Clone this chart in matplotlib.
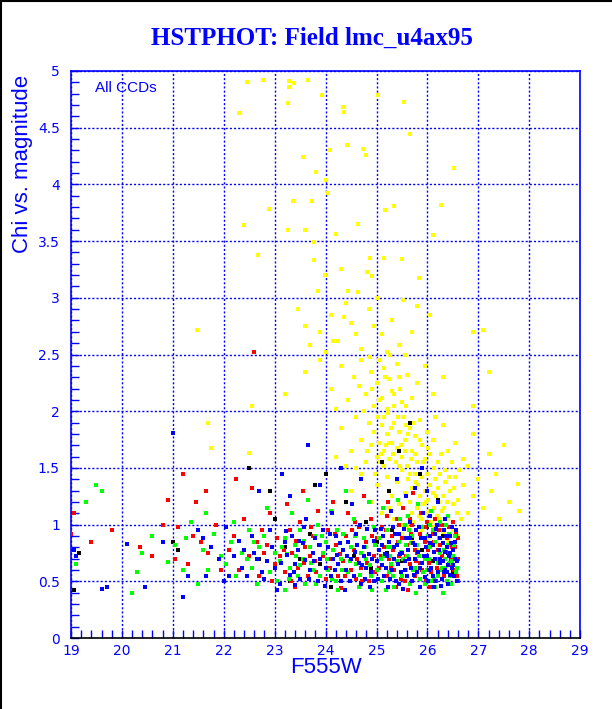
import matplotlib
matplotlib.use("Agg")
import matplotlib.pyplot as plt
from matplotlib.ticker import MultipleLocator
from matplotlib.lines import Line2D

# (magnitude, chi), one list per colour
yellow_pts = [
    (22.3, 4.63), (22.46, 4.9), (22.77, 4.92), (23.28, 4.91), (23.28, 4.86), (23.38, 4.89),
    (23.66, 4.92), (23.26, 4.72), (23.93, 4.79), (24.34, 4.68), (24.36, 4.64), (25.03, 4.79),
    (25.54, 4.73), (25.66, 4.44), (24.42, 4.35), (24.09, 4.30), (24.73, 4.31), (24.79, 4.26),
    (23.56, 4.24), (23.81, 4.11), (24.01, 4.04), (26.52, 4.14), (22.89, 3.78), (23.73, 3.85),
    (23.36, 3.85), (24.05, 3.92), (24.64, 3.65), (25.35, 3.81), (25.17, 3.77), (23.6, 3.6),
    (23.26, 3.6), (24.2, 3.56), (22.4, 3.64), (22.67, 3.38), (23.77, 3.49), (24.3, 3.25),
    (24.87, 3.35), (25.15, 3.35), (23.77, 3.33), (23.99, 3.2), (24.81, 3.23), (24.91, 3.19),
    (25.84, 3.17), (25.5, 3.34), (26.27, 3.82), (21.47, 2.72), (26.1, 3.55),
    (25.52, 2.98), (24.64, 3.05), (24.36, 2.83), (23.85, 3.06), (25.0, 3.0), (24.44, 3.06),
    (25.8, 2.93), (23.45, 2.9), (23.6, 2.75), (23.9, 2.7), (24.1, 2.85), (24.25, 2.62),
    (24.5, 2.78), (24.7, 2.55), (24.85, 2.9), (25.1, 2.68), (25.3, 2.8), (25.45, 2.58),
    (25.7, 2.7), (26.05, 2.85), (24.0, 2.52), (24.6, 2.68), (25.2, 2.52), (24.95, 2.75),
    (23.7, 2.58), (26.9, 2.7), (27.1, 2.72), (24.4, 2.95), (24.15, 2.62), (25.55, 2.5),
    (23.6, 2.35), (23.9, 2.45), (24.1, 2.2), (24.3, 2.4), (24.45, 2.1), (24.55, 2.3),
    (24.7, 2.45), (24.8, 2.15), (24.9, 2.35), (24.95, 2.05), (25.0, 2.25), (25.05, 2.45),
    (25.1, 2.12), (25.15, 2.38), (25.2, 2.02), (25.25, 2.28), (25.3, 2.18), (25.4, 2.42),
    (25.5, 2.08), (25.6, 2.32), (25.7, 2.12), (25.8, 2.25), (25.95, 2.4), (26.1, 2.15),
    (26.3, 2.3), (26.9, 2.05), (27.2, 2.35), (24.2, 2.02), (24.65, 2.22), (25.35, 2.05),
    (25.45, 2.3), (24.88, 2.48), (22.55, 2.05), (23.2, 2.15),
    (24.3, 1.85), (24.5, 1.65), (24.6, 1.95), (24.7, 1.75), (24.8, 1.55), (24.85, 1.9),
    (24.9, 1.7), (24.95, 1.82), (25.0, 1.6), (25.02, 1.95), (25.05, 1.72), (25.1, 1.88),
    (25.12, 1.52), (25.15, 1.65), (25.2, 1.8), (25.22, 1.98), (25.25, 1.58), (25.3, 1.72),
    (25.35, 1.9), (25.38, 1.55), (25.4, 1.68), (25.45, 1.82), (25.5, 1.6), (25.52, 1.95),
    (25.55, 1.75), (25.6, 1.52), (25.65, 1.85), (25.7, 1.65), (25.75, 1.78), (25.8, 1.55),
    (25.85, 1.92), (25.9, 1.7), (25.95, 1.58), (26.0, 1.82), (26.05, 1.62), (26.1, 1.75),
    (26.2, 1.55), (26.3, 1.88), (26.4, 1.65), (26.55, 1.72), (26.7, 1.58), (26.9, 1.8),
    (27.2, 1.62), (27.5, 1.7), (24.2, 1.6), (24.4, 1.52), (25.08, 1.62), (25.28, 1.85),
    (25.48, 1.7), (25.68, 1.58), (26.15, 1.95), (26.8, 1.52), (25.18, 1.7), (25.58, 1.88),
    (21.7, 1.9), (21.75, 1.68), (22.5, 1.63),
    (24.6, 1.5), (24.75, 2.0), (24.82, 1.65), (24.92, 2.2), (24.98, 1.45), (25.04, 2.1),
    (25.06, 1.55), (25.14, 1.95), (25.16, 2.3), (25.24, 1.72), (25.26, 2.5), (25.32, 1.62),
    (25.34, 2.15), (25.42, 1.95), (25.44, 1.52), (25.46, 2.2), (25.56, 1.65), (25.58, 2.05),
    (25.62, 1.8), (25.66, 1.45), (25.72, 1.9), (25.76, 1.62), (25.86, 1.75), (25.92, 1.55),
    (26.02, 1.68), (26.12, 1.5), (26.26, 1.62), (26.34, 1.48), (26.48, 1.55), (26.62, 1.48),
    (24.5, 1.3), (24.7, 1.45), (24.9, 1.2), (25.0, 1.35), (25.1, 1.1), (25.2, 1.42),
    (25.3, 1.25), (25.35, 1.05), (25.4, 1.38), (25.45, 1.18), (25.5, 1.48), (25.55, 1.28),
    (25.6, 1.08), (25.62, 1.4), (25.65, 1.2), (25.7, 1.32), (25.72, 1.02), (25.75, 1.45),
    (25.8, 1.15), (25.82, 1.35), (25.85, 1.25), (25.88, 1.05), (25.9, 1.42), (25.92, 1.18),
    (25.95, 1.3), (25.98, 1.1), (26.0, 1.45), (26.02, 1.22), (26.05, 1.35), (26.08, 1.02),
    (26.1, 1.28), (26.12, 1.15), (26.15, 1.4), (26.18, 1.08), (26.2, 1.32), (26.22, 1.2),
    (26.25, 1.45), (26.28, 1.12), (26.3, 1.25), (26.35, 1.38), (26.4, 1.05), (26.45, 1.3),
    (26.5, 1.18), (26.55, 1.42), (26.6, 1.22), (26.7, 1.35), (26.8, 1.1), (26.9, 1.25),
    (27.0, 1.4), (27.1, 1.15), (27.25, 1.3), (27.4, 1.05), (27.6, 1.2), (27.8, 1.12),
    (27.35, 1.45), (26.65, 1.05), (25.25, 1.15), (25.52, 1.0), (25.78, 1.38), (26.38, 1.2),
    (27.78, 1.36), (25.98, 1.2), (26.16, 1.25), (26.32, 1.15), (26.42, 1.42), (26.58, 1.1),
    (25.84, 1.08), (25.7, 1.1), (26.06, 1.12), (26.24, 1.05), (26.52, 1.32),
    (25.5, 0.92), (25.7, 0.85), (25.9, 0.95), (26.0, 0.88), (26.1, 0.98), (26.2, 0.82),
    (26.3, 0.92), (26.4, 0.86), (26.5, 0.95), (26.6, 0.9), (25.8, 0.78), (26.25, 0.75),
    (25.6, 0.98), (26.45, 0.8),
]

black_pts = [
    (19.05, 0.42), (19.15, 0.75), (21.0, 0.85), (21.1, 0.78), (22.5, 1.5), (22.9, 1.3),
    (23.0, 1.05), (23.2, 0.8), (23.5, 0.7), (23.7, 0.92), (23.8, 1.35), (23.9, 0.65),
    (24.0, 1.45), (24.2, 0.9), (24.4, 1.2), (24.55, 0.72), (24.8, 1.02), (24.9, 0.62),
    (25.0, 0.85), (25.1, 1.55), (25.2, 0.75), (25.3, 0.95), (25.45, 1.65), (25.5, 0.68),
    (25.65, 1.9), (25.7, 0.88), (25.85, 1.45), (25.9, 0.78), (26.0, 0.98), (26.1, 0.68),
    (26.2, 1.22), (26.3, 0.9), (26.4, 0.75), (26.5, 0.58), (23.3, 0.5), (24.6, 0.52),
    (25.6, 0.55), (22.7, 0.7), (24.1, 0.45), (25.25, 1.3),
]

red_pts = [
    (19.0, 0.92), (19.05, 1.1), (19.4, 0.85), (19.8, 0.95), (20.35, 0.8), (20.6, 0.72),
    (20.8, 1.0), (20.9, 1.22), (21.05, 0.7), (21.1, 0.98), (21.2, 1.45), (21.3, 0.65),
    (21.45, 1.2), (21.55, 0.85), (21.7, 0.75), (21.85, 1.0), (21.95, 0.6), (21.4, 0.9),
    (21.65, 1.3),
    (22.1, 0.78), (22.2, 0.9), (22.3, 0.6), (22.4, 1.05), (22.5, 0.72), (22.6, 2.52),
    (22.65, 0.85), (22.7, 0.55), (22.8, 0.75), (22.9, 1.1), (23.0, 0.65), (22.55, 1.32),
    (22.75, 0.95), (22.95, 0.5), (22.25, 1.4), (22.85, 0.82),
    (23.05, 0.88), (23.1, 0.72), (23.2, 0.58), (23.3, 0.95), (23.35, 0.75), (23.45, 0.62),
    (23.5, 1.02), (23.6, 0.8), (23.65, 0.55), (23.75, 0.9), (23.8, 0.68), (23.9, 0.82),
    (24.0, 0.52), (23.25, 1.18), (23.55, 1.3), (23.85, 1.12), (23.4, 0.45), (23.7, 0.72),
    (23.18, 0.78), (23.32, 0.5), (23.42, 0.86), (23.58, 0.66), (23.72, 0.98), (23.82, 0.58),
    (23.95, 0.72),
    (24.05, 0.95), (24.1, 0.7), (24.2, 0.82), (24.25, 0.55), (24.35, 0.68), (24.4, 0.9),
    (24.5, 0.6), (24.55, 0.78), (24.65, 0.98), (24.7, 0.62), (24.8, 0.85), (24.85, 0.5),
    (24.95, 0.72), (24.15, 1.2), (24.45, 1.1), (24.75, 1.25), (24.9, 1.05), (24.3, 0.44),
    (24.6, 0.52), (25.0, 0.88), (24.08, 0.62), (24.18, 0.92), (24.28, 0.74), (24.38, 0.55),
    (24.52, 0.95), (24.62, 0.7), (24.72, 0.5), (24.82, 0.66), (24.92, 0.9), (24.98, 0.58),
    (24.58, 1.02),
    (25.05, 0.62), (25.1, 0.98), (25.15, 0.8), (25.2, 0.55), (25.25, 0.7), (25.3, 0.9),
    (25.35, 0.6), (25.4, 1.05), (25.45, 0.72), (25.5, 0.88), (25.55, 0.5), (25.6, 0.82),
    (25.65, 0.65), (25.7, 1.0), (25.75, 0.55), (25.8, 0.75), (25.85, 0.92), (25.9, 0.6),
    (25.95, 0.85), (25.22, 1.2), (25.52, 1.15), (25.72, 1.28), (25.88, 1.1), (25.38, 0.45),
    (25.62, 0.42), (25.32, 0.78), (25.78, 0.68), (25.98, 0.5), (25.08, 0.72), (25.18, 0.95),
    (25.28, 0.62), (25.42, 0.85), (25.48, 0.52), (25.58, 0.72), (25.68, 0.92), (25.76, 0.78),
    (25.86, 0.66), (25.96, 0.98), (25.66, 1.05), (25.44, 1.0), (25.2, 1.08),
    (26.02, 0.78), (26.08, 0.58), (26.12, 0.85), (26.18, 0.62), (26.22, 0.95), (26.28, 0.72),
    (26.32, 0.55), (26.38, 0.88), (26.42, 0.65), (26.48, 0.8), (26.52, 0.6), (26.56, 0.92),
    (26.6, 0.7), (26.6, 0.5), (26.15, 1.05), (26.35, 1.0), (26.05, 0.45), (26.45, 0.48),
    (26.25, 0.82), (26.5, 1.02), (26.04, 0.66), (26.1, 0.92), (26.16, 0.5), (26.2, 0.78),
    (26.26, 1.0), (26.3, 0.62), (26.36, 0.76), (26.42, 0.98), (26.46, 0.7), (26.54, 0.8),
    (26.58, 0.55), (26.6, 0.88), (26.0, 1.02), (26.14, 0.7),
]

green_pts = [
    (19.1, 0.65), (19.3, 1.2), (19.5, 1.35), (19.6, 1.3), (20.2, 0.4), (20.3, 0.58),
    (20.4, 0.75), (20.6, 0.9), (20.9, 0.67), (21.05, 0.82), (21.2, 0.6), (21.35, 1.02),
    (21.5, 0.48), (21.6, 0.78), (21.7, 0.6), (21.8, 0.92), (21.95, 0.72), (21.25, 0.88),
    (21.65, 1.1),
    (22.05, 0.65), (22.15, 0.85), (22.25, 0.55), (22.35, 0.75), (22.5, 0.95), (22.55, 0.62),
    (22.65, 0.48), (22.7, 0.8), (22.8, 0.9), (22.9, 0.58), (23.0, 0.75), (22.2, 1.02),
    (22.45, 0.7), (22.85, 1.15), (22.6, 0.85), (23.05, 0.5), (23.2, 0.42),
    (23.1, 0.68), (23.2, 0.88), (23.3, 0.62), (23.4, 0.82), (23.45, 0.55), (23.5, 0.95),
    (23.55, 0.7), (23.6, 0.48), (23.7, 0.8), (23.75, 0.6), (23.8, 0.9), (23.9, 0.55),
    (23.95, 0.75), (23.35, 1.1), (23.65, 1.22), (23.85, 1.0), (23.25, 0.74), (23.5, 0.64),
    (23.15, 0.8), (23.28, 0.52), (23.42, 0.72), (23.58, 0.86), (23.72, 0.66), (23.82, 0.48),
    (23.92, 0.9),
    (24.0, 0.85), (24.05, 0.6), (24.15, 0.78), (24.2, 0.5), (24.3, 0.7), (24.35, 0.92),
    (24.45, 0.58), (24.5, 0.8), (24.6, 0.65), (24.65, 0.45), (24.75, 0.88), (24.8, 0.7),
    (24.9, 0.55), (24.95, 0.98), (24.1, 1.12), (24.4, 1.3), (24.55, 1.05), (24.85, 1.2),
    (24.25, 0.42), (24.7, 0.75), (25.0, 0.6), (24.02, 0.7), (24.12, 0.52), (24.22, 0.95),
    (24.32, 0.6), (24.48, 0.68), (24.58, 0.9), (24.68, 0.56), (24.78, 0.8), (24.88, 0.64),
    (24.98, 0.82), (24.92, 0.42),
    (25.05, 0.88), (25.1, 0.5), (25.15, 0.72), (25.2, 0.95), (25.25, 0.58), (25.3, 0.8),
    (25.35, 0.45), (25.4, 0.68), (25.45, 0.85), (25.5, 0.55), (25.55, 1.0), (25.6, 0.72),
    (25.65, 0.48), (25.7, 0.9), (25.75, 0.62), (25.8, 0.82), (25.85, 0.52), (25.9, 0.98),
    (25.95, 0.7), (25.12, 1.15), (25.42, 1.22), (25.62, 1.08), (25.82, 1.18), (25.28, 0.65),
    (25.58, 0.6), (25.78, 0.4), (25.92, 0.58), (25.18, 0.42), (25.48, 0.76), (25.68, 0.84),
    (25.08, 0.7), (25.22, 0.8), (25.32, 0.55), (25.38, 0.92), (25.52, 0.7), (25.64, 0.95),
    (25.72, 0.6), (25.84, 0.72), (25.96, 0.48), (25.46, 1.05), (25.88, 0.88), (25.58, 0.82),
    (25.26, 0.72),
    (26.0, 0.6), (26.05, 0.8), (26.1, 0.95), (26.12, 0.52), (26.18, 0.7), (26.22, 0.88),
    (26.28, 0.62), (26.32, 0.78), (26.38, 0.5), (26.42, 0.92), (26.48, 0.68), (26.52, 0.82),
    (26.56, 0.58), (26.08, 1.12), (26.25, 1.02), (26.4, 1.08), (26.15, 0.45), (26.35, 0.7),
    (26.45, 0.55), (26.02, 0.9), (26.3, 0.4), (26.2, 0.66), (26.04, 0.7), (26.08, 0.5),
    (26.14, 0.85), (26.2, 0.55), (26.24, 0.75), (26.3, 0.95), (26.34, 0.62), (26.4, 0.82),
    (26.46, 0.48), (26.5, 0.72), (26.54, 0.9), (26.58, 0.62), (26.06, 1.0), (26.36, 1.0),
    (26.26, 0.6), (26.44, 0.66),
]

blue_pts = [
    (19.05, 0.78), (19.1, 0.72), (19.6, 0.43), (19.7, 0.45), (20.1, 0.83), (20.45, 0.45),
    (20.8, 0.85), (21.0, 1.81), (21.2, 0.36), (21.3, 0.55), (21.5, 0.95), (21.6, 0.88),
    (21.65, 0.55), (21.75, 0.8), (21.9, 0.7), (22.0, 0.5), (22.05, 0.98), (22.1, 0.55),
    (22.2, 0.72), (22.3, 0.86), (22.35, 0.62), (22.45, 0.55), (22.55, 0.9), (22.6, 0.75),
    (22.7, 1.3), (22.75, 0.58), (22.8, 0.52), (22.85, 0.68), (22.9, 0.95), (22.95, 0.8),
    (23.0, 0.62), (23.05, 0.42), (23.1, 0.48), (23.15, 1.45), (23.2, 0.85), (22.4, 0.78),
    (22.65, 0.7),
    (23.25, 0.73), (23.3, 0.56), (23.35, 0.9), (23.4, 0.65), (23.45, 0.78), (23.5, 0.52),
    (23.55, 0.84), (23.6, 0.69), (23.62, 1.05), (23.7, 0.6), (23.75, 0.75), (23.8, 0.88),
    (23.85, 0.5), (23.9, 0.7), (23.95, 0.95), (24.0, 0.62), (23.3, 1.25), (23.65, 1.7),
    (23.9, 1.35), (23.4, 0.47), (23.58, 0.98), (23.12, 0.66), (23.22, 0.94), (23.38, 0.58),
    (23.48, 0.86), (23.68, 0.52), (23.78, 0.68), (23.88, 0.82), (23.98, 0.46),
    (24.05, 0.8), (24.1, 0.55), (24.15, 0.7), (24.2, 0.9), (24.25, 0.65), (24.3, 0.5),
    (24.35, 0.78), (24.4, 0.6), (24.45, 0.85), (24.5, 0.7), (24.55, 0.55), (24.6, 0.92),
    (24.65, 0.66), (24.7, 0.48), (24.75, 0.8), (24.8, 0.62), (24.85, 0.74), (24.9, 0.58),
    (24.95, 0.86), (25.0, 0.68), (24.12, 1.1), (24.38, 0.42), (24.52, 1.18), (24.68, 1.0),
    (24.88, 0.45), (24.22, 0.73), (24.58, 0.76), (24.78, 0.52), (24.98, 0.95), (24.3, 1.5),
    (24.7, 1.4), (24.08, 0.92), (24.18, 0.6), (24.28, 0.84), (24.42, 0.72), (24.48, 0.5),
    (24.62, 0.82), (24.72, 0.64), (24.82, 0.96), (24.92, 0.7), (24.96, 0.5), (24.76, 0.72),
    (25.02, 0.52), (25.05, 0.78), (25.1, 0.64), (25.12, 0.9), (25.15, 0.55), (25.2, 0.72),
    (25.22, 0.45), (25.25, 0.85), (25.3, 0.6), (25.32, 0.98), (25.35, 0.7), (25.38, 0.5),
    (25.4, 0.82), (25.42, 0.65), (25.45, 0.92), (25.48, 0.58), (25.5, 0.75), (25.52, 0.43),
    (25.55, 0.68), (25.58, 0.88), (25.6, 0.55), (25.62, 0.78), (25.65, 1.02), (25.68, 0.62),
    (25.7, 0.5), (25.72, 0.84), (25.75, 0.7), (25.78, 0.95), (25.8, 0.58), (25.82, 0.76),
    (25.85, 0.45), (25.88, 0.88), (25.9, 0.66), (25.92, 1.1), (25.95, 0.54), (25.98, 0.8),
    (25.28, 1.12), (25.58, 1.25), (25.4, 1.4), (25.75, 1.32), (25.9, 1.5), (25.1, 0.82),
    (25.46, 0.74), (25.66, 0.88), (25.86, 0.62), (25.08, 0.96), (25.18, 0.62), (25.26, 0.52),
    (25.34, 0.8), (25.44, 0.48), (25.54, 0.96), (25.64, 0.7), (25.74, 0.56), (25.84, 0.98),
    (25.94, 0.72), (25.96, 0.88), (25.76, 0.82), (25.56, 0.6), (25.36, 0.92), (25.16, 0.74),
    (26.0, 0.72), (26.02, 0.5), (26.05, 0.9), (26.08, 0.62), (26.1, 0.82), (26.12, 0.45),
    (26.15, 0.7), (26.18, 1.0), (26.2, 0.58), (26.22, 0.78), (26.25, 0.88), (26.28, 0.52),
    (26.3, 0.68), (26.32, 0.95), (26.35, 0.6), (26.38, 0.8), (26.4, 0.48), (26.42, 0.72),
    (26.45, 0.9), (26.48, 0.62), (26.5, 0.78), (26.52, 0.55), (26.55, 0.85), (26.58, 0.68),
    (26.05, 1.08), (26.15, 0.92), (26.25, 0.66), (26.35, 1.05), (26.45, 0.75), (26.1, 0.55),
    (26.3, 0.84), (26.4, 0.64), (26.2, 1.2), (26.0, 1.3), (26.48, 0.98), (26.38, 0.58),
    (26.04, 0.6), (26.06, 0.84), (26.14, 0.5), (26.16, 0.96), (26.24, 0.7), (26.26, 0.46),
    (26.34, 0.76), (26.36, 0.9), (26.44, 0.56), (26.46, 0.84), (26.54, 0.7), (26.56, 0.95),
    (26.58, 0.5), (26.12, 0.76), (26.32, 0.58), (26.5, 0.64),
]

series = [
    (yellow_pts, "#ffff00"),
    (black_pts, "black"),
    (red_pts, "#ff0000"),
    (green_pts, "#00ff00"),
    (blue_pts, "#0000ff"),
]

fig = plt.figure(figsize=(6.12, 7.09), dpi=100)
ax = fig.add_axes([0.116, 0.1, 0.832, 0.8])

for pts, col in series:
    xs = [p[0] for p in pts]
    ys = [p[1] for p in pts]
    ax.scatter(xs, ys, s=6, marker="s", color=col, linewidths=0, zorder=3)

ax.set_xlim(19, 29)
ax.set_ylim(0, 5)
ax.xaxis.set_major_locator(MultipleLocator(1))
ax.xaxis.set_minor_locator(MultipleLocator(0.2))
ax.yaxis.set_major_locator(MultipleLocator(0.5))
ax.yaxis.set_minor_locator(MultipleLocator(0.1))
ax.yaxis.set_major_formatter(plt.FuncFormatter(lambda v, p: "%g" % v))

ax.grid(which="major", color="blue", linestyle=(0, (1.5, 1.5)), linewidth=1, zorder=1)
ax.tick_params(which="both", direction="in", length=6, width=1, color="blue",
               labelcolor="blue", labelsize=10)
ax.tick_params(axis="x", pad=4)
ax.tick_params(axis="y", pad=8)
ax.spines["left"].set_color("blue")
ax.spines["bottom"].set_color("black")
ax.spines["top"].set_color("blue")
ax.spines["right"].set_color("blue")
for sp in ax.spines.values():
    sp.set_linewidth(1.2)

ax.text(19.47, 4.85, "All CCDs", color="blue", fontsize=11, va="center",
        family="Liberation Sans")

fig.text(0.51, 0.946, "HSTPHOT: Field lmc_u4ax95", color="blue", fontsize=18,
         fontweight="bold", family="Liberation Serif", ha="center", va="center")
fig.text(0.036, 0.769, "Chi vs. magnitude", color="blue", fontsize=16, rotation=90,
         family="Liberation Sans", ha="center", va="center")
fig.text(0.533, 0.059, "F555W", color="blue", fontsize=16,
         family="Liberation Sans", ha="center", va="center")

# black frame on left and top edges
fig.add_artist(Line2D([0.001, 0.001], [0, 1], color="black", linewidth=1.5,
                      transform=fig.transFigure))
fig.add_artist(Line2D([0, 1], [0.999, 0.999], color="black", linewidth=1.5,
                      transform=fig.transFigure))

fig.savefig("out.png", dpi=100)
